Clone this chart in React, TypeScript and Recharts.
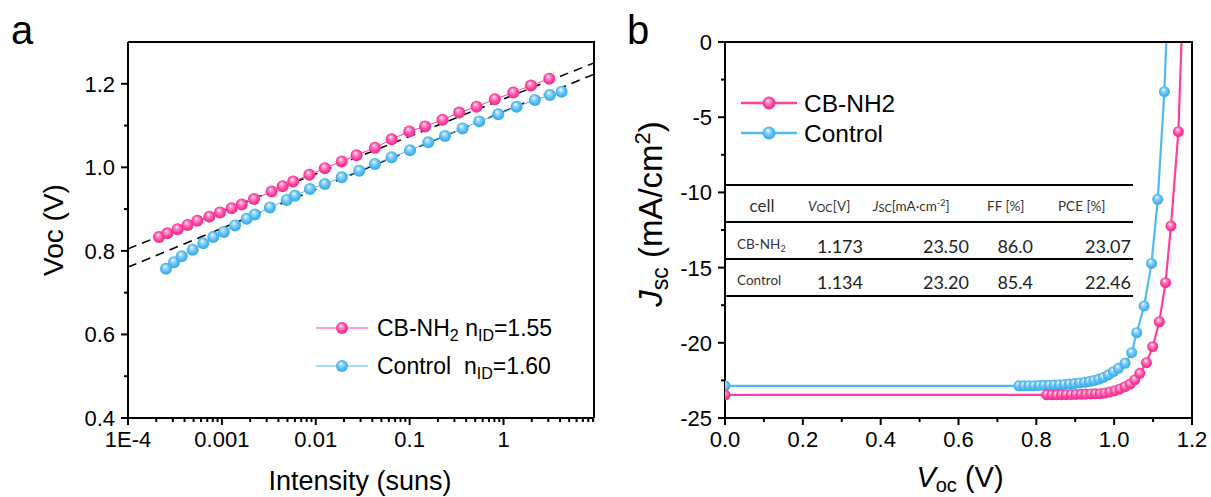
import React from "react";
import { LineChart, Line, XAxis, YAxis } from "recharts";

// panel a: light-intensity dependence of Voc
const intensityCB = [
  2.14e-4, 2.62e-4, 3.38e-4, 4.32e-4, 5.47e-4, 7.35e-4, 9.55e-4, 1.27e-3, 1.63e-3, 2.2e-3,
  3.39e-3, 4.44e-3, 5.75e-3, 8.53e-3, 1.25e-2, 1.89e-2, 2.72e-2, 4.27e-2, 6.43e-2, 9.91e-2,
  0.146, 0.224, 0.337, 0.516, 0.809, 1.27, 1.96, 3.07,
];
const vocCB = [
  0.833, 0.842, 0.852, 0.862, 0.872, 0.882, 0.892, 0.902, 0.911, 0.924,
  0.942, 0.955, 0.966, 0.982, 0.998, 1.014, 1.029, 1.047, 1.067, 1.086,
  1.098, 1.114, 1.131, 1.145, 1.163, 1.179, 1.196, 1.212,
];
const intensityControl = [
  2.54e-4, 3.09e-4, 3.73e-4, 4.89e-4, 6.34e-4, 8.09e-4, 1.05e-3, 1.38e-3, 1.84e-3, 2.25e-3,
  3.25e-3, 4.9e-3, 6.0e-3, 8.67e-3, 1.25e-2, 1.89e-2, 2.9e-2, 4.27e-2, 6.43e-2, 0.101,
  0.158, 0.238, 0.366, 0.551, 0.879, 1.377, 2.158, 3.119, 4.159,
];
const vocControl = [
  0.757, 0.773, 0.787, 0.803, 0.818, 0.833, 0.845, 0.861, 0.877, 0.887,
  0.904, 0.922, 0.932, 0.948, 0.96, 0.976, 0.992, 1.008, 1.024, 1.041,
  1.06, 1.075, 1.093, 1.11, 1.127, 1.145, 1.161, 1.173, 1.181,
];
const fitIntensity = [1e-4, 9.2];
const fitCB = [0.805, 1.25];
const fitControl = [0.761, 1.223];

const aMajorX = [1e-4, 1e-3, 1e-2, 0.1, 1];
const aMajorXLabels = ["1E-4", "0.001", "0.01", "0.1", "1"];
const aMinorX = [
  2e-4, 3e-4, 4e-4, 5e-4, 6e-4, 7e-4, 8e-4, 9e-4,
  2e-3, 3e-3, 4e-3, 5e-3, 6e-3, 7e-3, 8e-3, 9e-3,
  0.02, 0.03, 0.04, 0.05, 0.06, 0.07, 0.08, 0.09,
  0.2, 0.3, 0.4, 0.5, 0.6, 0.7, 0.8, 0.9,
  2, 3, 4, 5, 6, 7, 8, 9,
];
const aMajorY = [0.4, 0.6, 0.8, 1.0, 1.2];
const aMinorY = [0.5, 0.7, 0.9, 1.1];

// panel b: J-V curves
const vCB = [
  0, 0.827, 0.84, 0.852, 0.865, 0.877, 0.89, 0.902, 0.915, 0.927, 0.94, 0.952, 0.964,
  0.976, 0.989, 1.002, 1.015, 1.028, 1.041, 1.053, 1.066, 1.083, 1.099, 1.116, 1.132,
  1.146, 1.165, 1.173,
];
const jCB = [
  -23.47, -23.46, -23.46, -23.46, -23.45, -23.45, -23.44, -23.43, -23.42, -23.41, -23.4, -23.39, -23.38,
  -23.34, -23.27, -23.18, -23.07, -22.92, -22.74, -22.47, -22.03, -21.32, -20.26, -18.6, -16.0,
  -12.23, -5.96, 0,
];
const vControl = [
  0, 0.755, 0.768, 0.781, 0.794, 0.807, 0.82, 0.833, 0.846, 0.859, 0.872, 0.885, 0.898,
  0.911, 0.924, 0.936, 0.948, 0.96, 0.972, 0.985, 0.998, 1.011, 1.028, 1.045, 1.058,
  1.077, 1.096, 1.112, 1.129, 1.134,
];
const jControl = [
  -22.87, -22.86, -22.86, -22.85, -22.85, -22.84, -22.83, -22.82, -22.81, -22.79, -22.77, -22.74, -22.71,
  -22.67, -22.63, -22.58, -22.51, -22.43, -22.3, -22.14, -21.92, -21.7, -21.36, -20.66, -19.33,
  -17.55, -14.72, -10.46, -3.3, 0,
];
const bMajorX = [0, 0.2, 0.4, 0.6, 0.8, 1.0, 1.2];
const bMinorX = [0.1, 0.3, 0.5, 0.7, 0.9, 1.1];
const bMajorY = [0, -5, -10, -15, -20, -25];
const bMinorY = [-2.5, -7.5, -12.5, -17.5, -22.5];

// table
const tableCells = ["CB-NH", "Control"];
const tableVoc = ["1.173", "1.134"];
const tableJsc = ["23.50", "23.20"];
const tableFF = ["86.0", "85.4"];
const tablePCE = ["23.07", "22.46"];

const PINK = "#ff3f9f";
const BLUE = "#4fb9f3";
const AXIS_FONT = "'Liberation Sans', Arial, sans-serif";
const TABLE_FONT = "Lato, 'Open Sans', sans-serif";

const zip = (xs: number[], ys: number[]) => xs.map((x, i) => ({ x, y: ys[i] }));

const isIn = (v: number, list: number[]) => list.some((m) => Math.abs(m - v) < 1e-9);

const ballDot = (grad: string, r: number) => (p: any) => {
  const key = `${grad}-${p.index}`;
  if (p.payload && p.payload.y >= 0 && grad.endsWith("B")) return <g key={key} />;
  return <circle key={key} cx={p.cx} cy={p.cy} r={r} fill={`url(#${grad})`} />;
};

const yTick = (axisX: number, majors: number[], fmt: (v: number) => string) => (p: any) => {
  const v = p.payload.value;
  const major = isIn(v, majors);
  return (
    <g>
      <line x1={axisX} x2={axisX - (major ? 7 : 4)} y1={p.y} y2={p.y} stroke="#000" strokeWidth={2} />
      {major && (
        <text x={axisX - 13} y={p.y} dy="0.36em" textAnchor="end" fontSize={22} fontFamily={AXIS_FONT} fill="#000">
          {fmt(v)}
        </text>
      )}
    </g>
  );
};

const xTick = (axisY: number, majors: number[], fmt: (v: number) => string) => (p: any) => {
  const v = p.payload.value;
  const major = isIn(v, majors);
  return (
    <g>
      <line x1={p.x} x2={p.x} y1={axisY} y2={axisY + (major ? 7 : 4)} stroke="#000" strokeWidth={2} />
      {major && (
        <text x={p.x} y={axisY + 13} dy="0.72em" textAnchor="middle" fontSize={22} fontFamily={AXIS_FONT} fill="#000">
          {fmt(v)}
        </text>
      )}
    </g>
  );
};

function Gradients() {
  const stops = (light: string, mid: string, dark: string) => (
    <>
      <stop offset="0%" stopColor="#ffffff" />
      <stop offset="22%" stopColor={light} />
      <stop offset="60%" stopColor={mid} />
      <stop offset="100%" stopColor={dark} />
    </>
  );
  return (
    <svg width={0} height={0} style={{ position: "absolute" }}>
      <defs>
        <radialGradient id="ballPinkA" cx="50%" cy="50%" fx="40%" fy="30%" r="60%">
          {stops("#ff9ccd", PINK, "#e2287f")}
        </radialGradient>
        <radialGradient id="ballBlueA" cx="50%" cy="50%" fx="40%" fy="30%" r="60%">
          {stops("#a8dcfa", BLUE, "#2ea3e6")}
        </radialGradient>
        <radialGradient id="ballPinkB" cx="50%" cy="50%" fx="40%" fy="30%" r="60%">
          {stops("#ff9ccd", PINK, "#e2287f")}
        </radialGradient>
        <radialGradient id="ballBlueB" cx="50%" cy="50%" fx="40%" fy="30%" r="60%">
          {stops("#a8dcfa", BLUE, "#2ea3e6")}
        </radialGradient>
      </defs>
    </svg>
  );
}

function PanelA() {
  const cb = zip(intensityCB, vocCB);
  const ctrl = zip(intensityControl, vocControl);
  const fitA = zip(fitIntensity, fitCB);
  const fitB = zip(fitIntensity, fitControl);
  const labelX = (v: number) => aMajorXLabels[aMajorX.findIndex((m) => Math.abs(m - v) < 1e-12)];
  return (
    <div style={{ position: "absolute", left: 0, top: 0 }}>
      <LineChart width={610} height={497} margin={{ top: 42, right: 16, bottom: 78, left: 127 }}>
        <XAxis
          dataKey="x"
          type="number"
          scale="log"
          domain={[1e-4, 9.2]}
          allowDataOverflow
          ticks={[...aMajorX, ...aMinorX]}
          interval={0}
          height={1}
          tickLine={false}
          axisLine={{ stroke: "#000", strokeWidth: 2 }}
          tick={xTick(418, aMajorX, labelX)}
        />
        <YAxis
          type="number"
          domain={[0.4, 1.3]}
          allowDataOverflow
          ticks={[...aMajorY, ...aMinorY]}
          interval={0}
          width={1}
          tickLine={false}
          axisLine={{ stroke: "#000", strokeWidth: 2 }}
          tick={yTick(128, aMajorY, (v) => v.toFixed(1))}
        />
        <Line data={fitA} dataKey="y" stroke="#000" strokeWidth={1.5} strokeDasharray="9 6" dot={false} isAnimationActive={false} />
        <Line data={fitB} dataKey="y" stroke="#000" strokeWidth={1.5} strokeDasharray="9 6" dot={false} isAnimationActive={false} />
        <Line data={ctrl} dataKey="y" stroke={BLUE} strokeWidth={1} dot={ballDot("ballBlueA", 6)} activeDot={false} isAnimationActive={false} />
        <Line data={cb} dataKey="y" stroke={PINK} strokeWidth={1} dot={ballDot("ballPinkA", 6)} activeDot={false} isAnimationActive={false} />
      </LineChart>
    </div>
  );
}

function PanelB() {
  const cb = zip(vCB, jCB);
  const ctrl = zip(vControl, jControl);
  return (
    <div style={{ position: "absolute", left: 610, top: 0 }}>
      <LineChart width={601} height={497} margin={{ top: 42, right: 19, bottom: 78, left: 114 }}>
        <XAxis
          dataKey="x"
          type="number"
          domain={[0, 1.2]}
          allowDataOverflow
          ticks={[...bMajorX, ...bMinorX]}
          interval={0}
          height={1}
          tickLine={false}
          axisLine={{ stroke: "#000", strokeWidth: 2 }}
          tick={xTick(418, bMajorX, (v) => v.toFixed(1))}
        />
        <YAxis
          type="number"
          domain={[-25, 0]}
          allowDataOverflow
          ticks={[...bMajorY, ...bMinorY]}
          interval={0}
          width={1}
          tickLine={false}
          axisLine={{ stroke: "#000", strokeWidth: 2 }}
          tick={yTick(115, bMajorY, (v) => String(v))}
        />
        <Line data={ctrl} dataKey="y" stroke={BLUE} strokeWidth={2.2} dot={ballDot("ballBlueB", 5.5)} activeDot={false} isAnimationActive={false} />
        <Line data={cb} dataKey="y" stroke={PINK} strokeWidth={2.2} dot={ballDot("ballPinkB", 5.5)} activeDot={false} isAnimationActive={false} />
      </LineChart>
    </div>
  );
}

function Overlay() {
  const tableLines = [185, 222, 259, 296];
  const rowY = [247, 283];
  return (
    <svg width={1211} height={497} style={{ position: "absolute", left: 0, top: 0, pointerEvents: "none" }} fontFamily={AXIS_FONT}>
      {/* frames: top and right edges */}
      <polyline points="128,42 594,42 594,418" fill="none" stroke="#000" strokeWidth={2} />
      <polyline points="725,42 1192,42 1192,418" fill="none" stroke="#000" strokeWidth={2} />

      {/* panel letters */}
      <text x={11} y={44} fontSize={40}>a</text>
      <text x={627} y={44} fontSize={40}>b</text>

      {/* axis titles */}
      <text x={360} y={490} fontSize={27} textAnchor="middle">Intensity (suns)</text>
      <text transform="translate(63,230) rotate(-90)" fontSize={28} textAnchor="middle">Voc (V)</text>
      <text x={960} y={487} fontSize={29} textAnchor="middle">
        <tspan fontStyle="italic">V</tspan>
        <tspan fontSize={20} dy={5}>oc</tspan>
        <tspan dy={-5}>{"\u00a0(V)"}</tspan>
      </text>
      <text transform="translate(662,214) rotate(-90)" fontSize={33} textAnchor="middle">
        <tspan fontStyle="italic">J</tspan>
        <tspan fontSize={23} dy={6}>sc</tspan>
        <tspan dy={-6}>{"\u00a0(mA/cm"}</tspan>
        <tspan fontSize={22} dy={-12}>2</tspan>
        <tspan dy={12}>)</tspan>
      </text>

      {/* legend a */}
      <line x1={316} x2={368} y1={328} y2={328} stroke={PINK} strokeWidth={1} />
      <circle cx={342} cy={328} r={6} fill="url(#ballPinkA)" />
      <text x={377} y={328} dy="0.36em" fontSize={23}>
        CB-NH<tspan fontSize={16} dy={5}>2</tspan>
        <tspan dy={-5}>{"\u00a0n"}</tspan>
        <tspan fontSize={16} dy={5}>ID</tspan>
        <tspan dy={-5}>=1.55</tspan>
      </text>
      <line x1={316} x2={368} y1={366} y2={366} stroke={BLUE} strokeWidth={1} />
      <circle cx={342} cy={366} r={6} fill="url(#ballBlueA)" />
      <text x={377} y={366} dy="0.36em" fontSize={23}>
        {"Control\u00a0\u00a0n"}
        <tspan fontSize={16} dy={5}>ID</tspan>
        <tspan dy={-5}>=1.60</tspan>
      </text>

      {/* legend b */}
      <line x1={741} x2={797} y1={103} y2={103} stroke={PINK} strokeWidth={2.5} />
      <circle cx={769} cy={103} r={6.5} fill="url(#ballPinkB)" />
      <text x={804} y={103} dy="0.36em" fontSize={24.5}>CB-NH2</text>
      <line x1={741} x2={797} y1={133} y2={133} stroke={BLUE} strokeWidth={2.5} />
      <circle cx={769} cy={133} r={6.5} fill="url(#ballBlueB)" />
      <text x={804} y={133} dy="0.36em" fontSize={24.5}>Control</text>

      {/* table */}
      {tableLines.map((y) => (
        <line key={y} x1={726} x2={1133} y1={y} y2={y} stroke="#000" strokeWidth={2} />
      ))}
      <g fontFamily={TABLE_FONT} fill="#333">
        <text x={762} y={206} dy="0.36em" fontSize={17} textAnchor="middle">cell</text>
        <text x={808} y={206} dy="0.36em" fontSize={13.5}>
          <tspan fontStyle="italic">V</tspan>
          <tspan fontSize={11} dy={1}>OC</tspan>
          <tspan dy={-1}>[V]</tspan>
        </text>
        <text x={873} y={206} dy="0.36em" fontSize={13.5}>
          <tspan fontStyle="italic">J</tspan>
          <tspan fontSize={11} dy={1}>SC</tspan>
          <tspan dy={-1}>[mA·cm</tspan>
          <tspan fontSize={9} dy={-5}>-2</tspan>
          <tspan dy={5}>]</tspan>
        </text>
        <text x={987} y={206} dy="0.36em" fontSize={13.5}>FF [%]</text>
        <text x={1058} y={206} dy="0.36em" fontSize={13.5}>PCE [%]</text>
      </g>
      <g fontFamily={TABLE_FONT} fill="#222">
        {tableCells.map((c, i) => (
          <text key={c} x={737} y={rowY[i] - 3} dy="0.36em" fontSize={13.5} fill="#333">
            {c}
            {i === 0 && <tspan fontSize={9} dy={3}>2</tspan>}
          </text>
        ))}
        {rowY.map((y, i) => (
          <g key={y} fontSize={18}>
            <text x={863} y={y} dy="0.36em" textAnchor="end">{tableVoc[i]}</text>
            <text x={969} y={y} dy="0.36em" textAnchor="end">{tableJsc[i]}</text>
            <text x={1033} y={y} dy="0.36em" textAnchor="end">{tableFF[i]}</text>
            <text x={1131} y={y} dy="0.36em" textAnchor="end">{tablePCE[i]}</text>
          </g>
        ))}
      </g>
    </svg>
  );
}

export default function App() {
  return (
    <div style={{ position: "absolute", left: 0, top: 0, width: 1211, height: 497, background: "#fff" }}>
      <Gradients />
      <PanelA />
      <PanelB />
      <Overlay />
    </div>
  );
}
